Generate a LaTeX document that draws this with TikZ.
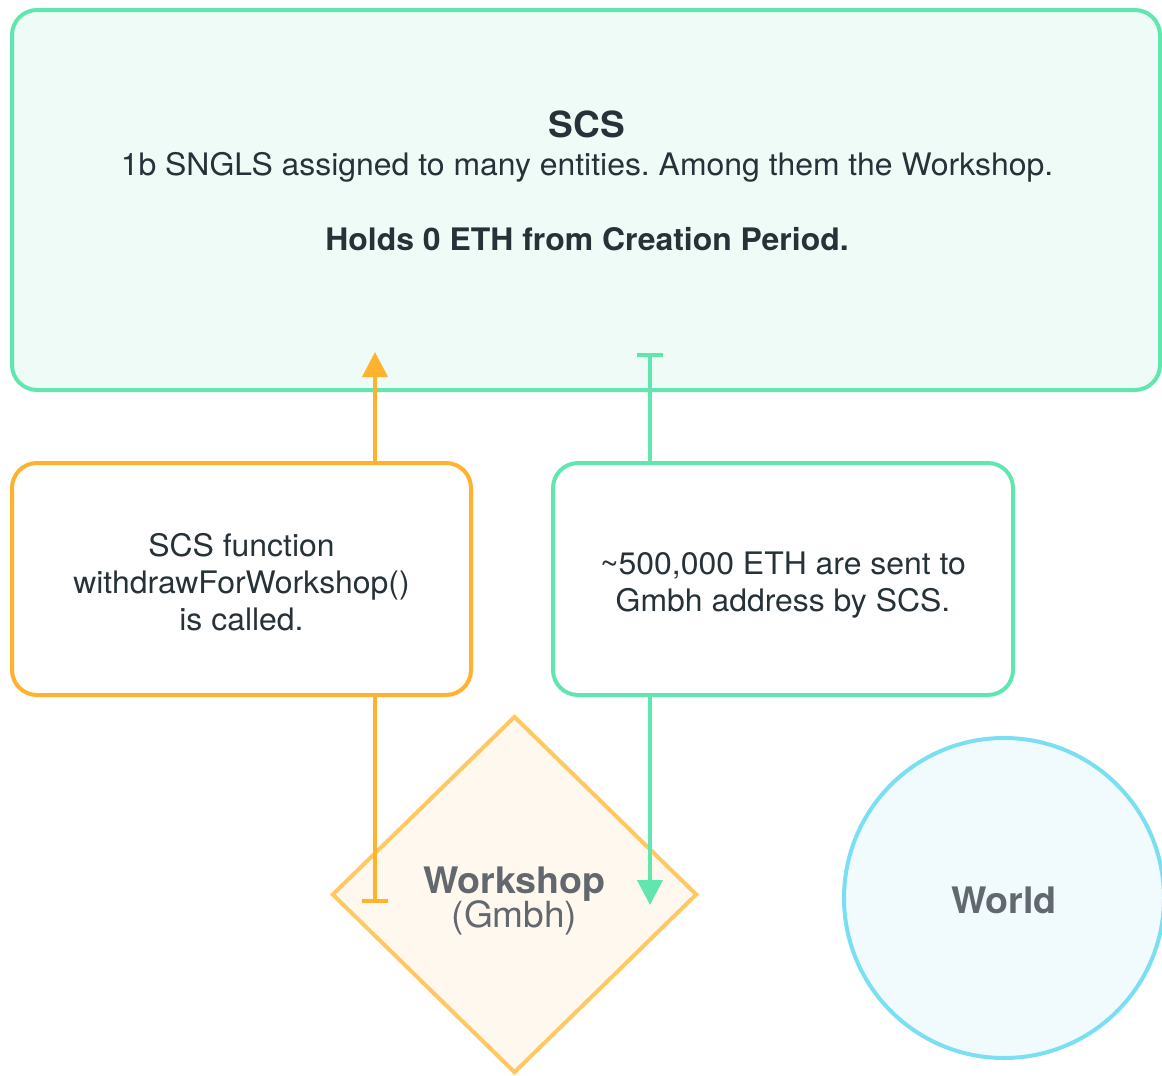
\documentclass[tikz,border=0pt]{standalone}
\usepackage{fontspec}
\setmainfont{TeX Gyre Heros}[FakeStretch=1.03]
\usetikzlibrary{arrows.meta,shapes.geometric}
\definecolor{gstroke}{HTML}{61E6AF}
\definecolor{gfill}{HTML}{EEFBF6}
\definecolor{ostroke}{HTML}{FFB22E}
\definecolor{dstroke}{HTML}{FFC862}
\definecolor{dfill}{HTML}{FFF8EE}
\definecolor{cstroke}{HTML}{7ADFF2}
\definecolor{cfill}{HTML}{F1FBFE}
\definecolor{darktext}{HTML}{263238}
\definecolor{graytext}{HTML}{62686E}
\frenchspacing
\begin{document}
\begin{tikzpicture}[x=1pt,y=-1pt,
  boxbase/.style={rounded corners=25pt, line width=4pt, inner sep=0pt},
  scsbox/.style={boxbase, draw=gstroke, fill=gfill},
  obox/.style={boxbase, draw=ostroke, fill=white},
  gbox/.style={boxbase, draw=gstroke, fill=white},
  ws/.style={diamond, aspect=1, draw=dstroke, fill=dfill, line width=4pt, inner sep=0pt},
  world/.style={circle, draw=cstroke, fill=cfill, line width=4pt, inner sep=0pt},
  body/.style={anchor=base, inner sep=0pt, text=darktext, font=\fontsize{31}{36}\selectfont},
  bodyb/.style={body, font=\fontsize{31}{36}\selectfont\bfseries},
  title/.style={body, font=\fontsize{36}{42}\selectfont\bfseries},
  gtitle/.style={anchor=base, inner sep=0pt, text=graytext, font=\fontsize{36.5}{42}\selectfont\bfseries},
  gsub/.style={anchor=base, inner sep=0pt, text=graytext, font=\fontsize{36}{42}\selectfont},
  oline/.style={draw=ostroke, line width=4pt},
  gline/.style={draw=gstroke, line width=4pt},
  tri/.style={-{Triangle[width=25pt,length=25pt]}},
  bar/.style={{Bar[width=26pt]}-}
]
\useasboundingbox (0,0) rectangle (1162,1076);

% nodes
\node[scsbox, minimum width=1148pt, minimum height=380pt] (scs) at (586,200) {};
\node[obox, minimum width=459pt, minimum height=232pt] (ob) at (241.5,579) {};
\node[gbox, minimum width=460pt, minimum height=232pt] (gb) at (783,579) {};
\node[ws, minimum width=365pt, minimum height=357pt] (wsd) at (514.5,894.5) {};
\node[world, minimum size=320pt] (wd) at (1004,898) {};

% texts
\node[title] (t1) at (587,137) {SCS};
\node[body] (t2) at (587,175) {1b SNGLS assigned to many entities. Among them the Workshop.};
\node[bodyb] (t3) at (587,250) {Holds 0 ETH from Creation Period.};

\node[body] (o1t) at (241.5,556) {SCS function};
\node[body] (o2t) at (241.5,593) {withdrawForWorkshop()};
\node[body] (o3t) at (241.5,630) {is called.};

\node[body] (g1t) at (783,574) {\char`\~500,000 ETH are sent to};
\node[body] (g2t) at (783,611) {Gmbh address by SCS.};

\node[gtitle] (wst) at (514.5,893) {Workshop};
\node[gsub] (wss) at (514.5,927) {(Gmbh)};
\node[gtitle] (wdt) at (1004,913) {World};

% connector coordinates
\coordinate (obar) at (375,903);
\coordinate (otip) at (375,352);
\coordinate (gbar) at (650,353);
\coordinate (gtip) at (650,905);

% connectors
\draw[oline, bar] (obar) -- (obar |- ob.south);
\draw[oline, tri] (obar |- ob.north) -- (otip);
\draw[gline, bar] (gbar) -- (gbar |- gb.north);
\draw[gline, tri] (gbar |- gb.south) -- (gtip);
\end{tikzpicture}
\end{document}
